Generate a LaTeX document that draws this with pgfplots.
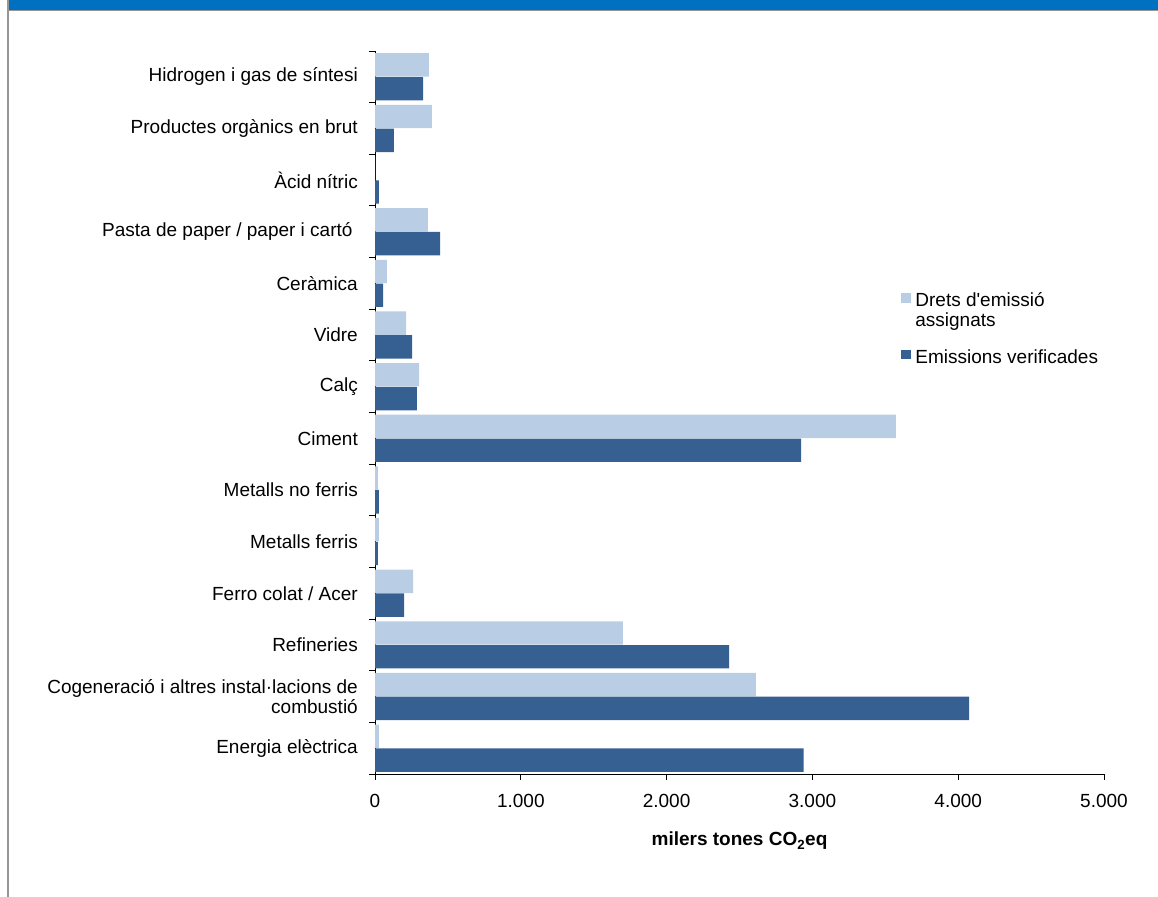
\documentclass[border=0pt]{standalone}
\usepackage{pgfplots}
\pgfplotsset{compat=1.18}
\usepackage{fontspec}
\setmainfont{Liberation Sans}
\newfontfamily\plainfont{Liberation Sans}
\definecolor{lightbar}{RGB}{185,205,229}
\definecolor{darkbar}{RGB}{55,96,146}
\definecolor{band}{RGB}{0,112,192}
\definecolor{framegray}{RGB}{150,150,150}
\newcommand{\f}{\fontsize{19bp}{20bp}\selectfont}
\begin{document}
\begin{tikzpicture}[x=1bp,y=1bp]
\path[use as bounding box] (0,0) rectangle (1158,897);
\fill[band] (9,887) rectangle (1158,897);
\fill[framegray] (9,885.7) rectangle (1158,887);
\fill[framegray] (7.3,0) rectangle (9,897);
\begin{axis}[
  at={(375bp,123bp)}, anchor=south west,
  scale only axis, width=729bp, height=723bp,
  xbar, bar width=23.4bp,
  xmin=0, xmax=5000, ymin=-0.5, ymax=13.5,
  axis x line*=bottom, axis y line*=left,
  axis line style={black, line width=0.9bp},
  xtick={0,1000,2000,3000,4000,5000},
  scaled x ticks=false,
  /pgf/number format/assume math mode=true,
  /pgf/number format/1000 sep={.},
  ytick={0,...,13},
  minor ytick={-0.5,0.5,...,13.5},
  tick align=outside,
  major tick length=6bp, minor tick length=6bp,
  every major y tick/.style={draw=none},
  every minor y tick/.style={black, line width=0.9bp},
  every major x tick/.style={black, line width=0.9bp},
  yticklabels={Energia elèctrica,{Cogeneració i altres instal·lacions de\\combustió},Refineries,Ferro colat / Acer,Metalls ferris,Metalls no ferris,Ciment,Calç,Vidre,Ceràmica,{Pasta de paper / paper i cartó\ },Àcid nítric,Productes orgànics en brut,Hidrogen i gas de síntesi},
  yticklabel style={font=\f, align=right, inner sep=0pt, xshift=-11bp},
  xticklabel style={font=\f, inner sep=0pt, yshift=-14bp},
  xlabel={\textbf{milers tones CO\textsubscript{2}eq}},
  x label style={font=\f, at={(axis description cs:0.5,0)}, anchor=base, yshift=-72bp, inner sep=0pt},
  legend style={at={(0.7211,0.6657)}, anchor=north west, draw=none, fill=none,
    inner sep=0pt, font=\f, row sep=41bp, column sep=4.5bp,
    cells={anchor=base west}, nodes={inner sep=0pt}},
  legend image code/.code={\fill[#1] (0bp,3.7bp) rectangle (10bp,13.4bp);},
]
\addplot[fill=lightbar, draw=none, bar shift=11.9bp] coordinates {
(27,0) (2613,1) (1700,2) (261,3) (27,4) (20,5) (3573,6) (302,7) (213,8) (82,9) (363,10) (0,11) (390,12) (370,13)};
\addlegendentry{\begin{tabular}[t]{@{}l@{}}Drets d{\plainfont'}emissió\\assignats\end{tabular}}
\addplot[fill=darkbar, draw=none, bar shift=-11.9bp] coordinates {
(2940,0) (4074,1) (2428,2) (199,3) (20,4) (27,5) (2922,6) (288,7) (254,8) (55,9) (446,10) (27,11) (130,12) (330,13)};
\addlegendentry{Emissions verificades}
\end{axis}
\end{tikzpicture}
\end{document}
